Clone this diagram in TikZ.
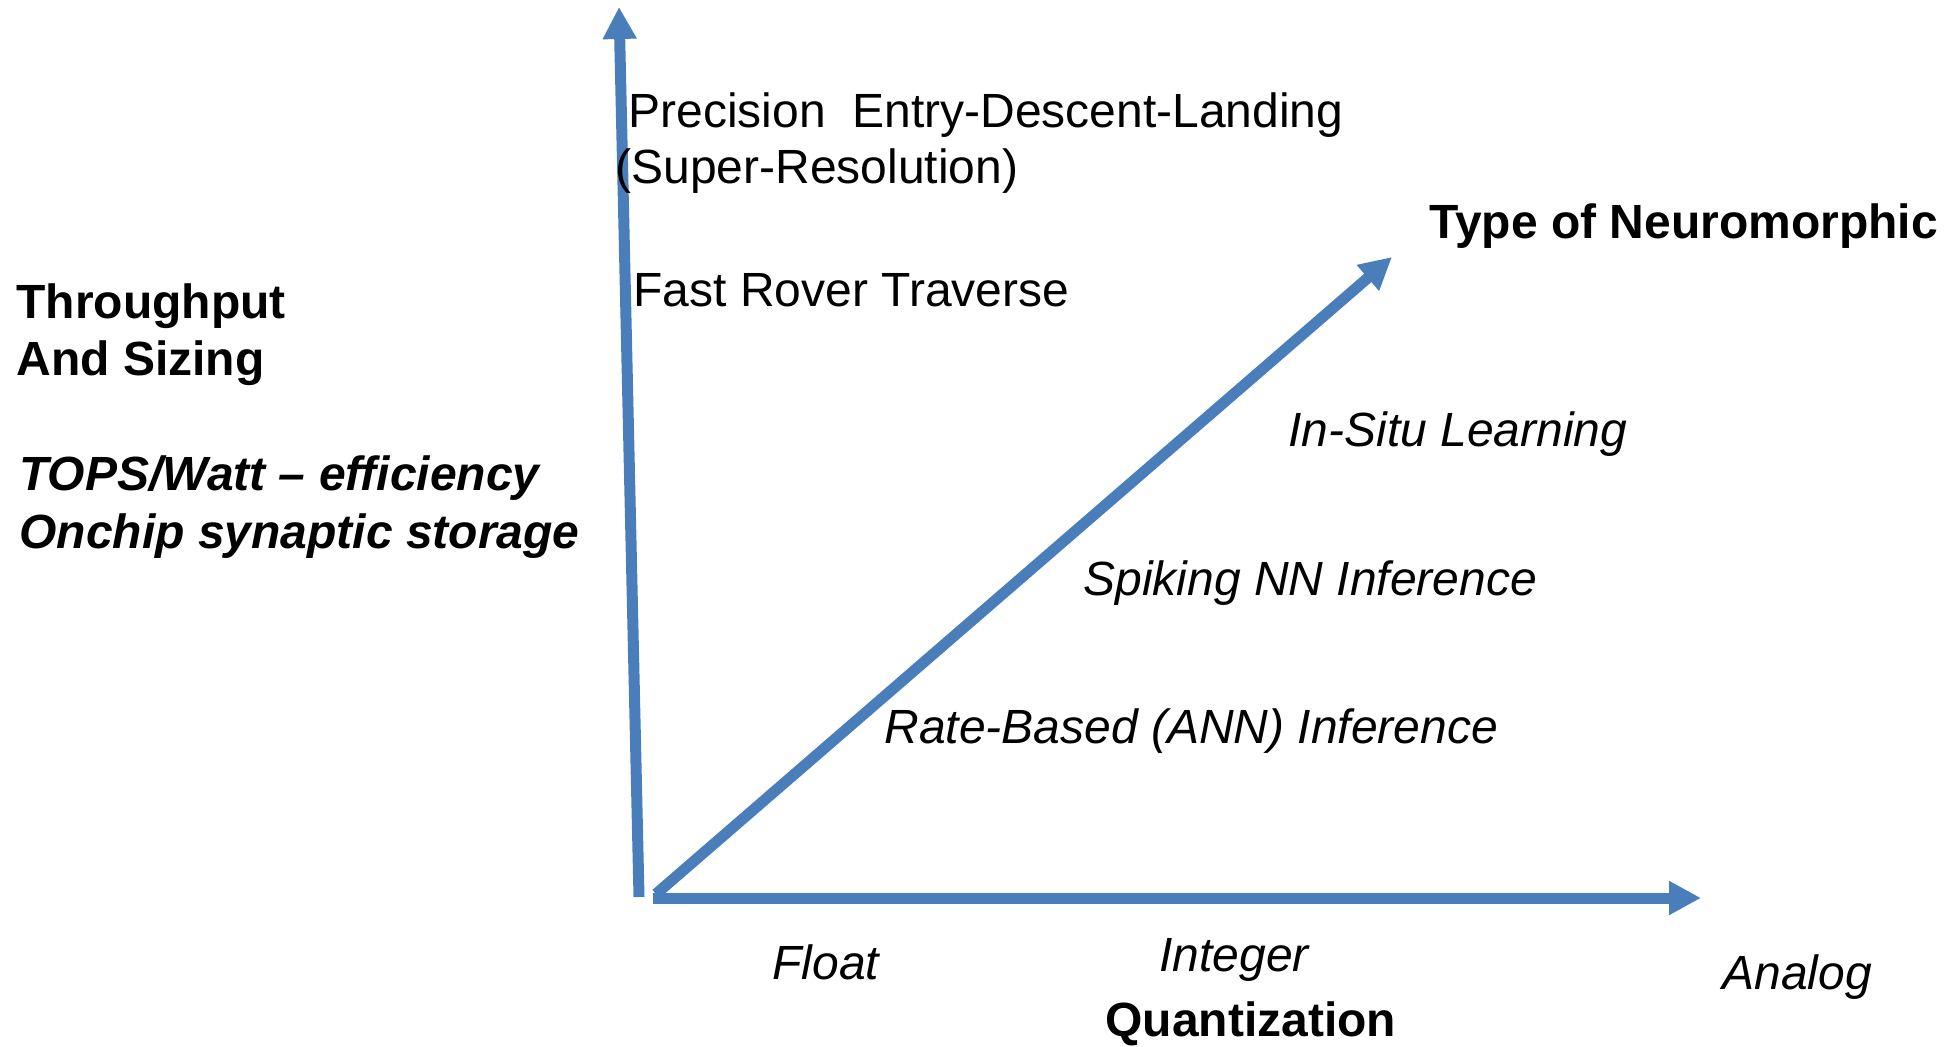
\documentclass[tikz,border=0pt]{standalone}
\usepackage{fontspec}
\setmainfont{Liberation Sans}
\usetikzlibrary{arrows.meta}
\definecolor{axisblue}{RGB}{74,126,187}
\tikzset{
  axisline/.style={draw=axisblue, line width=5.5pt, line cap=butt,
    -{Triangle[length=16pt,width=16pt]}},
  lbl/.style={anchor=base west, inner sep=0pt, font=\fontsize{24}{28}\selectfont},
  lblb/.style={lbl, font=\fontsize{24}{28}\selectfont\bfseries},
  lbli/.style={lbl, font=\fontsize{24}{28}\selectfont\itshape},
  lblbi/.style={lbl, font=\fontsize{24}{28}\selectfont\bfseries\itshape}
}
\begin{document}
\begin{tikzpicture}[x=0.5pt,y=-0.5pt]
\useasboundingbox (0,0) rectangle (1945,1047);
% axes
\coordinate (vbot) at (639,897);
\coordinate (vtop) at (619,7);
\coordinate (hleft) at (653,898);
\coordinate (hright) at (1701,898);
\coordinate (dbot) at (656,894);
\coordinate (dtop) at (1392,257);
\draw[axisline] (vbot) -- (vtop);
\draw[axisline] (hleft) -- (hright);
\draw[axisline] (dbot) -- (dtop);
% left labels
\node[lblb] (thr) at (16,319) {Throughput};
\node[lblb] (siz) at (16,376) {And Sizing};
\node[lblbi] (tops) at (19,491) {TOPS/Watt – efficiency};
\node[lblbi] (onc) at (19,549) {Onchip synaptic storage};
% vertical axis labels
\node[lbl] (prec) at (628,128) {Precision\ \ Entry-Descent-Landing};
\node[lbl] (sup) at (615,184) {(Super-Resolution)};
\node[lbl] (fast) at (633,307) {Fast Rover Traverse};
% diagonal axis labels
\node[lblb] (type) at (1429,239) {Type of Neuromorphic};
\node[lbli] (insitu) at (1288,447) {In-Situ Learning};
\node[lbli] (spk) at (1083,596) {Spiking NN Inference};
\node[lbli] (rate) at (884,744) {Rate-Based (ANN) Inference};
% horizontal axis labels
\node[lbli] (flt) at (772,979) {Float};
\node[lbli] (intg) at (1159,971) {Integer};
\node[lbli] (anl) at (1722,989) {Analog};
\node[lblb] (quant) at (1105,1036) {Quantization};
\end{tikzpicture}
\end{document}
